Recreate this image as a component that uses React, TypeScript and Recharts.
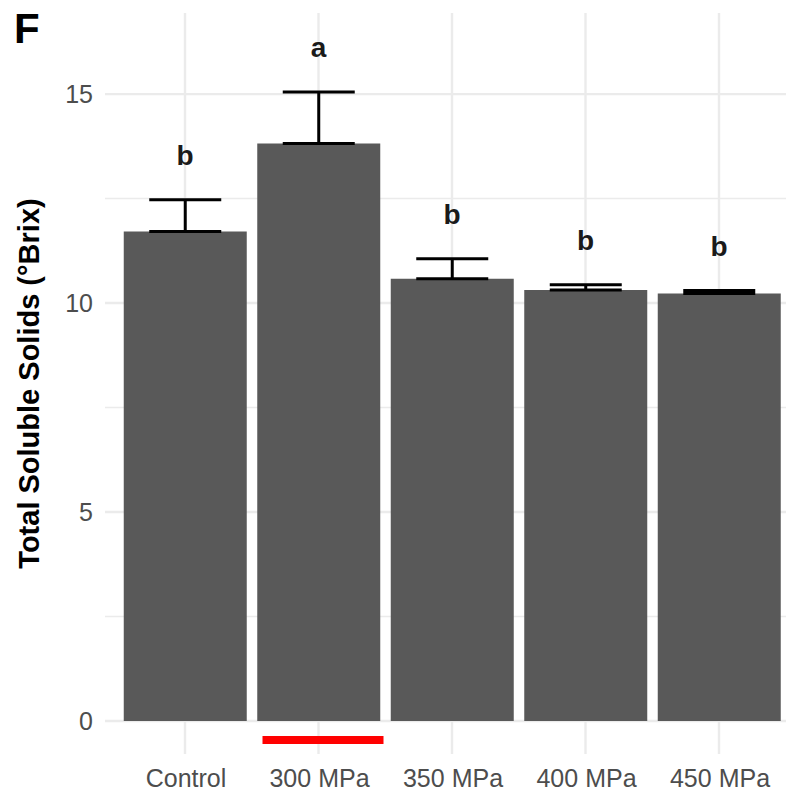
import React from 'react';
import {
  ComposedChart,
  Bar,
  XAxis,
  YAxis,
  CartesianGrid,
  ErrorBar,
  Scatter,
  LabelList,
} from 'recharts';

const categories = ['Control', '300 MPa', '350 MPa', '400 MPa', '450 MPa'];
const means = [11.71, 13.82, 10.58, 10.31, 10.23];
const sds = [0.76, 1.23, 0.48, 0.13, 0.07];
const letters = ['b', 'a', 'b', 'b', 'b'];
const yTicks = [0, 5, 10, 15];
const minorTicks = [2.5, 7.5, 12.5];
const highlighted = '300 MPa';
const letterGap = 0.72;

const data = categories.map((c, i) => ({
  name: c,
  mean: means[i],
  err: [0, sds[i]],
  labelY: means[i] + sds[i] + letterGap,
  letter: letters[i],
}));

const W = 786;
const H = 791;

const XTick = (props: any) => {
  const { x, y, payload } = props;
  return (
    <g>
      {payload.value === highlighted && (
        <rect x={x - 56} y={y - 18} width={121} height={8} fill="#ff0000" />
      )}
      <text
        x={x + 1}
        y={y + 33}
        textAnchor="middle"
        fill="#4d4d4d"
        fontSize={25}
        fontFamily="'Liberation Sans', Arial, sans-serif"
      >
        {payload.value}
      </text>
    </g>
  );
};

const YTick = (props: any) => {
  const { x, y, payload } = props;
  return (
    <text
      x={x}
      y={y + 8.8}
      textAnchor="end"
      fill="#4d4d4d"
      fontSize={25}
      fontFamily="'Liberation Sans', Arial, sans-serif"
    >
      {payload.value}
    </text>
  );
};

const YTitle = (props: any) => {
  const { viewBox } = props;
  const cx = viewBox.x + 29;
  const cy = viewBox.y + viewBox.height / 2;
  return (
    <text
      x={cx}
      y={cy}
      transform={`rotate(-90 ${cx} ${cy})`}
      textAnchor="middle"
      dominantBaseline="central"
      fill="#000000"
      fontSize={29}
      fontWeight="bold"
      fontFamily="'Liberation Sans', Arial, sans-serif"
    >
      Total Soluble Solids (°Brix)
    </text>
  );
};

const LetterLabel = (props: any) => {
  const { x, y, width, value } = props;
  const cx = x + (width || 0) / 2;
  return (
    <text
      x={cx}
      y={y}
      textAnchor="middle"
      fill="#1a1a1a"
      fontSize={28}
      fontWeight="bold"
      fontFamily="'Liberation Sans', Arial, sans-serif"
    >
      {value}
    </text>
  );
};

export default function App() {
  return (
    <div style={{ position: 'absolute', left: 0, top: 0, width: W, height: H, background: '#fff' }}>
      <ComposedChart
        width={W}
        height={H}
        data={data}
        margin={{ top: 13, right: 0, bottom: 0, left: 0 }}
        barCategoryGap={5.5}
      >
        <CartesianGrid
          stroke="#ebebeb"
          strokeWidth={1.4}
          vertical={false}
          horizontalValues={minorTicks}
          syncWithTicks
        />
        <CartesianGrid stroke="#ebebeb" strokeWidth={2.4} syncWithTicks />
        <XAxis
          dataKey="name"
          type="category"
          height={37}
          tickSize={0}
          tickMargin={0}
          axisLine={false}
          tickLine={false}
          padding={{ left: 13.25, right: 0.25 }}
          tick={<XTick />}
          interval={0}
        />
        <YAxis
          type="number"
          domain={[-0.79, 16.94]}
          allowDataOverflow
          ticks={yTicks}
          width={105}
          tickSize={0}
          tickMargin={12}
          axisLine={false}
          tickLine={false}
          tick={<YTick />}
          label={{ content: <YTitle /> }}
        />
        <Bar dataKey="mean" fill="#595959" isAnimationActive={false}>
          <ErrorBar dataKey="err" width={36} stroke="#000000" strokeWidth={3} />
        </Bar>
        <Scatter dataKey="labelY" shape={() => null} isAnimationActive={false}>
          <LabelList dataKey="letter" content={<LetterLabel />} />
        </Scatter>
      </ComposedChart>
      <svg
        width={W}
        height={H}
        style={{ position: 'absolute', left: 0, top: 0, pointerEvents: 'none' }}
      >
        <text
          x={14}
          y={43}
          fontSize={42}
          fontWeight="bold"
          fill="#000"
          fontFamily="'Liberation Sans', Arial, sans-serif"
        >
          F
        </text>
      </svg>
    </div>
  );
}
